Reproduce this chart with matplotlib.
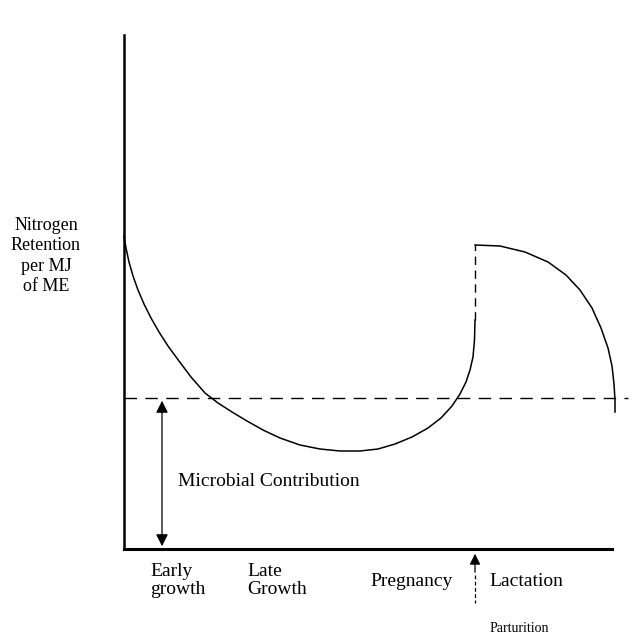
import numpy as np
import matplotlib.pyplot as plt

# schematic drawn in image pixel space (x right, y down)
growth_x = [124, 126, 129, 133, 138, 144, 151, 159, 168, 179, 191, 205, 218, 232, 247, 263, 280, 300, 320, 340, 360, 378, 395, 412, 428, 441, 452, 460, 466, 470, 473, 474.5, 475]
growth_y = [236, 248, 262, 276, 290, 304, 318, 332, 346, 361, 377, 393, 403, 412, 421, 430, 438, 445, 449, 451, 451, 449, 444, 437, 428, 418, 406, 394, 382, 370, 357, 340, 320]

partur_x = [475, 475]
partur_y = [320, 245]

lact_x = [475, 500, 525, 548, 566, 580, 592, 601, 608, 612, 614, 615, 615]
lact_y = [245, 246, 252, 262, 275, 290, 308, 328, 348, 366, 384, 400, 412]

microbial_level = 398
axis_y = 549
axis_x = 124

labels = ["Early\ngrowth", "Late\nGrowth", "Pregnancy", "Lactation"]
label_x = [150, 247, 370, 489]
label_y = [563, 563, 573, 573]

plt.rcParams['font.family'] = ['Liberation Serif', 'DejaVu Serif']

fig = plt.figure(figsize=(6.35, 6.37), dpi=100)
ax = fig.add_axes([0, 0, 1, 1])
ax.set_xlim(0, 635)
ax.set_ylim(637, 0)
ax.axis('off')

# axes
ax.plot([axis_x, axis_x], [35, axis_y], color='black', lw=1.8)
ax.plot([axis_x, 612], [axis_y, axis_y], color='black', lw=2.2)

# microbial contribution level
ax.plot([axis_x, 628], [microbial_level, microbial_level], color='black', lw=1.0, ls=(0, (9, 6)))

# main curves
ax.plot(growth_x, growth_y, color='black', lw=1.1)
ax.plot(partur_x, partur_y, color='black', lw=1.0, ls=(0, (6, 4)))
ax.plot(lact_x, lact_y, color='black', lw=1.1)

# double arrow for microbial contribution
ax.annotate('', xy=(162, microbial_level), xytext=(162, axis_y),
            arrowprops=dict(arrowstyle='<|-|>', color='black', lw=0.9, mutation_scale=18))
ax.text(178, 482, "Microbial Contribution", fontsize=14, va='center', ha='left')

# parturition arrow
ax.annotate('', xy=(475, axis_y + 2), xytext=(475, 575),
            arrowprops=dict(arrowstyle='-|>', color='black', lw=0.9, mutation_scale=16))
ax.plot([475, 475], [575, 603], color='black', lw=0.9, ls=(0, (3, 2)))
ax.text(490, 628, "Parturition", fontsize=10, va='center', ha='left')

for lab, lx, ly in zip(labels, label_x, label_y):
    ax.text(lx, ly, lab, fontsize=14, va='top', ha='left', linespacing=1.05)

ax.text(46, 256, "Nitrogen\nRetention\nper MJ\nof ME", fontsize=13, ha='center', va='center',
        linespacing=1.25)

fig.savefig('out.png', dpi=100)
